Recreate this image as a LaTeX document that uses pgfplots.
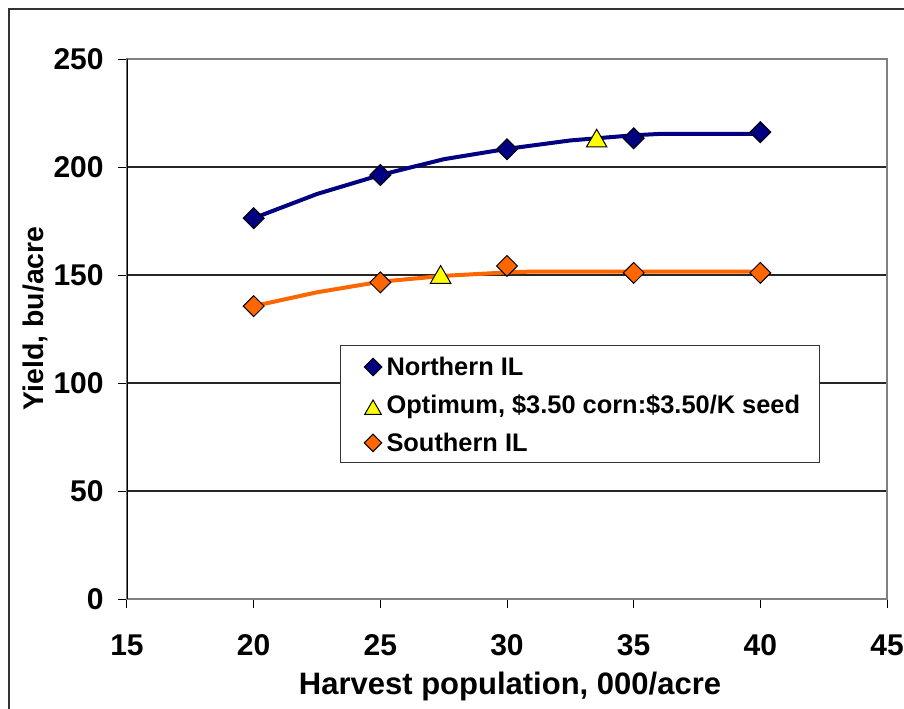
\documentclass[border=0pt]{standalone}
\usepackage{fontspec}
\setmainfont{Liberation Sans}
\usepackage{pgfplots}
\pgfplotsset{compat=1.18}
\definecolor{navyc}{HTML}{000080}
\definecolor{orangec}{HTML}{FF6600}
\definecolor{yelc}{HTML}{FFFF00}
\pgfplotsset{
  diamondleg/.style={legend image code/.code={\path (-16pt,-3pt) (6.5pt,5pt);
    \draw[##1, mark size=3.1pt] plot coordinates {(0pt,0pt)};}},
  triangleleg/.style={legend image code/.code={\path (-16pt,-3pt) (6.5pt,5pt);
    \draw[##1, mark size=4.8pt] plot coordinates {(0pt,-1.2pt)};}},
}
\pgfplotstableread{
x y
20 176.3
22.5 187.5
25 196.3
27.5 203.6
30 208.4
32.5 212.3
35 214.7
36 215.3
40 215.3
}\northcurve
\pgfplotstableread{
x y
20 135.6
22.5 142.0
25 146.9
27.5 149.6
30 151.2
31 151.6
40 151.6
}\southcurve
\pgfplotstableread{
x y
20 176.3
25 196.3
30 208.2
35 213.3
40 216.1
}\northpts
\pgfplotstableread{
x y
20 135.6
25 146.6
30 154.2
35 151.0
40 151.0
}\southpts
\pgfplotstableread{
x y
33.54 213.3
27.38 150.2
}\optpts
\begin{document}
\begin{tikzpicture}
\begin{axis}[
  scale only axis, width=380pt, height=270pt,
  xmin=15, xmax=45, ymin=0, ymax=250,
  xtick={15,20,...,45}, ytick={0,50,...,250},
  xtick pos=bottom, ytick pos=left,
  tick align=outside, major tick length=4.5pt,
  tick style={black, line width=0.5pt},
  axis line style={draw=black!50, line width=0.75pt},
  ymajorgrids, grid style={black!85, line width=0.6pt},
  /pgf/number format/assume math mode=true,
  ticklabel style={font=\fontsize{15}{18}\selectfont\bfseries, inner sep=0pt},
  xticklabel style={anchor=base, yshift=-23.5pt},
  yticklabel style={anchor=east, xshift=-7pt},
  xlabel={Harvest population, 000/acre},
  ylabel={Yield, bu/acre},
  xlabel style={font=\fontsize{15.5}{18}\selectfont\bfseries, inner sep=0pt,
    at={(axis description cs:0.504,-0.176)}, anchor=base},
  ylabel style={font=\fontsize{14.2}{18}\selectfont\bfseries, inner sep=0pt,
    at={(axis description cs:-0.1105,0.520)}, anchor=base},
  legend style={at={(axis description cs:0.2803,0.4704)}, anchor=north west,
    draw=black!80, line width=0.5pt, fill=white,
    inner xsep=0pt, inner ysep=5.5pt, row sep=9pt, column sep=0pt,
    font=\fontsize{12.7}{15}\selectfont\bfseries,
    nodes={inner sep=0pt, text height=8.9pt, text depth=0pt}},
  legend cell align=left,
]
\addplot[navyc, line width=2pt, forget plot] table[x=x,y=y]{\northcurve};
\addplot[orangec, line width=2pt, forget plot] table[x=x,y=y]{\southcurve};
\addplot[only marks, mark=square*, mark size=3.7pt,
  mark options={rotate=45, fill=navyc, draw=black, line width=0.5pt},
  diamondleg] table[x=x,y=y]{\northpts};
\addlegendentry{\makebox[216.5pt][l]{Northern IL}}
\addplot[only marks, mark=triangle*, mark size=5.9pt,
  mark options={yshift=-1.4pt, fill=yelc, draw=black, line width=0.5pt},
  triangleleg] table[x=x,y=y]{\optpts};
\addlegendentry{\makebox[216.5pt][l]{Optimum, \$3.50 corn:\$3.50/K seed}}
\addplot[only marks, mark=square*, mark size=3.7pt,
  mark options={rotate=45, fill=orangec, draw=black, line width=0.5pt},
  diamondleg] table[x=x,y=y]{\southpts};
\addlegendentry{\makebox[216.5pt][l]{Southern IL}}
\draw[black, line width=0.75pt] (rel axis cs:0,0) -- (rel axis cs:0,1);
\end{axis}
\draw[black!80, line width=0.75pt] (-59pt,-80pt) rectangle (420pt,295pt);
\pgfresetboundingbox
\useasboundingbox (-63.5pt,-54.5pt) rectangle (388.5pt,299.5pt);
\end{tikzpicture}
\end{document}
